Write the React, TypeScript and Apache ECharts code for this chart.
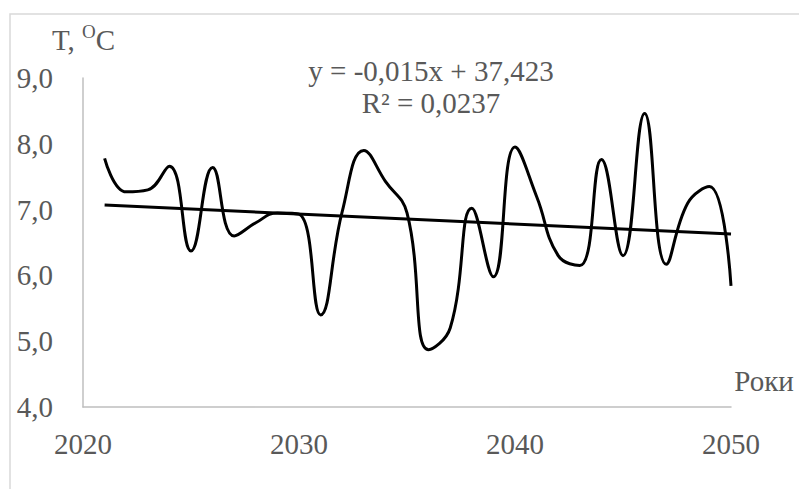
import React, { useEffect, useRef } from "react";
import * as echarts from "echarts";

const years = [
  2021, 2022, 2023, 2024, 2025, 2026, 2027, 2028, 2029, 2030,
  2031, 2032, 2033, 2034, 2035, 2036, 2037, 2038, 2039, 2040,
  2041, 2042, 2043, 2044, 2045, 2046, 2047, 2048, 2049, 2050,
];
const temperature = [
  7.78, 7.27, 7.3, 7.66, 6.37, 7.64, 6.6, 6.8, 6.95, 6.93,
  5.4, 6.97, 7.9, 7.43, 6.95, 4.87, 5.2, 7.02, 5.98, 7.95,
  7.2, 6.3, 6.15, 7.76, 6.3, 8.46, 6.17, 7.1, 7.35, 5.84,
];
const trendYears = [2021, 2050];
const trendValues = [7.07, 6.63];
const xTicks = [2020, 2030, 2040, 2050];
const yTicks = [4, 5, 6, 7, 8, 9];
const equationText = "y = -0,015x + 37,423";
const r2Text = "R² = 0,0237";
const yAxisTitle = ["T, ", "O", "C"];
const xAxisTitle = "Роки";

const FONT = "'Liberation Serif', 'Times New Roman', serif";
const GREY = "#595959";

export default function App() {
  const ref = useRef<HTMLDivElement>(null);
  useEffect(() => {
    if (!ref.current) return;
    const chart = echarts.init(ref.current, null, { renderer: "svg" });
    chart.setOption({
      animation: false,
      backgroundColor: "#ffffff",
      grid: { left: 83, right: 68, top: 78, bottom: 82, containLabel: false },
      xAxis: {
        type: "value",
        min: xTicks[0],
        max: xTicks[xTicks.length - 1],
        interval: 10,
        axisLine: { show: true, lineStyle: { color: "#bfbfbf", width: 1.5 } },
        axisTick: { show: false },
        splitLine: { show: false },
        axisLabel: {
          color: GREY,
          fontFamily: FONT,
          fontSize: 29,
          margin: 22,
          formatter: (v: number) => String(v),
        },
      },
      yAxis: {
        type: "value",
        min: yTicks[0],
        max: yTicks[yTicks.length - 1],
        interval: 1,
        axisLine: { show: true, lineStyle: { color: "#bfbfbf", width: 1.5 } },
        axisTick: { show: false },
        splitLine: { show: false },
        axisLabel: {
          color: GREY,
          fontFamily: FONT,
          fontSize: 29,
          margin: 30,
          formatter: (v: number) => v.toFixed(1).replace(".", ","),
        },
      },
      series: [
        {
          type: "line",
          data: years.map((y, i) => [y, temperature[i]]),
          smooth: 0.45,
          showSymbol: false,
          lineStyle: { color: "#000000", width: 3 },
          z: 3,
        },
        {
          type: "line",
          data: trendYears.map((y, i) => [y, trendValues[i]]),
          showSymbol: false,
          lineStyle: { color: "#000000", width: 3 },
          z: 2,
        },
      ],
      graphic: [
        {
          type: "rect",
          shape: { x: 10, y: 14, width: 820, height: 520 },
          style: { fill: "none", stroke: "#d9d9d9", lineWidth: 1.5 },
          silent: true,
        },
        {
          type: "text",
          left: 52,
          top: 22,
          style: {
            text: `{a|${yAxisTitle[0]}}{s|${yAxisTitle[1]}}{a|${yAxisTitle[2]}}`,
            rich: {
              a: { fontFamily: FONT, fontSize: 29, fill: GREY, verticalAlign: "bottom", lineHeight: 32 },
              s: { fontFamily: FONT, fontSize: 19, fill: GREY, verticalAlign: "top", padding: [0, 0, 10, 0], lineHeight: 32 },
            },
          },
        },
        {
          type: "text",
          x: 431,
          y: 71,
          style: {
            text: equationText,
            font: `29px ${FONT}`,
            fill: GREY,
            align: "center",
            verticalAlign: "middle",
          },
        },
        {
          type: "text",
          x: 431,
          y: 103,
          style: {
            text: r2Text,
            font: `29px ${FONT}`,
            fill: GREY,
            align: "center",
            verticalAlign: "middle",
          },
        },
        {
          type: "text",
          x: 764,
          y: 381,
          style: {
            text: xAxisTitle,
            font: `29px ${FONT}`,
            fill: GREY,
            align: "center",
            verticalAlign: "middle",
          },
        },
      ],
    });
    return () => chart.dispose();
  }, []);
  return <div ref={ref} style={{ width: 799, height: 489, position: "absolute", left: 0, top: 0 }} />;
}
